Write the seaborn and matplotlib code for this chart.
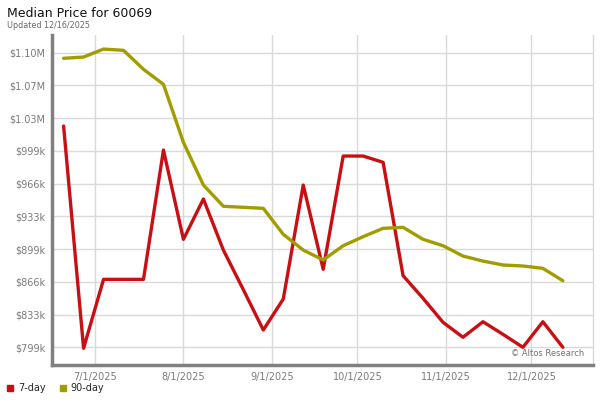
import pandas as pd
import numpy as np
import matplotlib
matplotlib.use("Agg")
import matplotlib.pyplot as plt
import matplotlib.dates as mdates
from matplotlib.ticker import FuncFormatter
from matplotlib.lines import Line2D
import seaborn as sns

# Weekly median list price, 60069
dates = ["2025-06-20", "2025-06-27", "2025-07-04", "2025-07-11", "2025-07-18",
         "2025-07-25", "2025-08-01", "2025-08-08", "2025-08-15", "2025-08-22",
         "2025-08-29", "2025-09-05", "2025-09-12", "2025-09-19", "2025-09-26",
         "2025-10-03", "2025-10-10", "2025-10-17", "2025-10-24", "2025-10-31",
         "2025-11-07", "2025-11-14", "2025-11-21", "2025-11-28", "2025-12-05",
         "2025-12-12"]
price_7day = [1024400, 798400, 868500, 868500, 868500, 1000000, 909200, 950200,
              898300, 858000, 817000, 848500, 964400, 878700, 993900, 993900,
              987500, 872200, 849200, 824800, 809600, 825400, 812600, 799400,
              825400, 799400]
price_90day = [1093300, 1094600, 1102700, 1101400, 1082100, 1066800, 1007800,
               964400, 942800, 941800, 940700, 914300, 898300, 888200, 902700,
               911900, 920400, 921400, 909200, 902700, 892200, 887100, 883100,
               882100, 879700, 867100]

y_ticks = [799400, 832700, 866000, 899300, 932600, 965900, 999200, 1032500,
           1065800, 1099100]
y_labels = ["$799k", "$833k", "$866k", "$899k", "$933k", "$966k", "$999k",
            "$1.03M", "$1.07M", "$1.10M"]
x_ticks = ["2025-07-01", "2025-08-01", "2025-09-01", "2025-10-01",
           "2025-11-01", "2025-12-01"]

series = ["7-day", "90-day"]
colors = ["#c80f14", "#a19c00"]

df = pd.DataFrame({
    "date": pd.to_datetime(dates * 2),
    "price": price_7day + price_90day,
    "series": [series[0]] * len(dates) + [series[1]] * len(dates),
})

sns.set_style("white")
plt.rcParams['font.family'] = ['DejaVu Sans']

fig = plt.figure(figsize=(6, 4), dpi=100)
ax = fig.add_axes([0.087, 0.0875, 0.901, 0.825])

sns.lineplot(data=df, x="date", y="price", hue="series", palette=colors,
             linewidth=2.4, ax=ax, legend=False)

ax.set_xlim(pd.Timestamp("2025-06-16"), pd.Timestamp("2025-12-22 12:00"))
ax.set_ylim(781400, 1117000)
ax.set_yticks(y_ticks)
ax.set_yticklabels(y_labels)
ax.set_xticks(pd.to_datetime(x_ticks))
ax.xaxis.set_major_formatter(FuncFormatter(
    lambda v, pos: "{d.month}/{d.day}/{d.year}".format(d=mdates.num2date(v))))
ax.set_xlabel("")
ax.set_ylabel("")

ax.grid(True, color="#d9d9d9", linewidth=1)
ax.set_axisbelow(True)
ax.tick_params(length=0, labelsize=7, colors="#7a7a7a", pad=5)

for s in ["left", "bottom"]:
    ax.spines[s].set_color("#808080")
    ax.spines[s].set_linewidth(2.5)
ax.spines["top"].set_visible(False)
ax.spines["right"].set_color("#d9d9d9")
ax.spines["right"].set_linewidth(1)

ax.text(0.985, 0.035, "\u00a9 Altos Research", transform=ax.transAxes,
        ha="right", va="center", fontsize=6, color="#707070")

fig.text(0.012, 0.966, "Median Price for 60069", fontsize=9, color="#111111",
         ha="left", va="center")
fig.text(0.012, 0.936, "Updated 12/16/2025", fontsize=5.8, color="#666666",
         ha="left", va="center")

handles = [Line2D([], [], marker="s", linestyle="none", markersize=4.5,
                  color=c) for c in colors]
fig.legend(handles, series, loc="lower left", bbox_to_anchor=(-0.006, -0.005),
           ncol=2, frameon=False, fontsize=7, handletextpad=0.3,
           columnspacing=1.3, handlelength=1.0)

fig.savefig("out.png", dpi=100)
